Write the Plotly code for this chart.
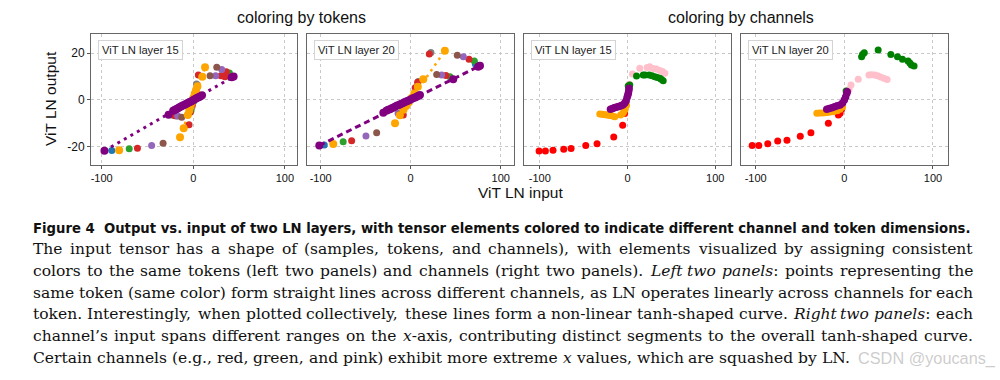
import glob
import os
import re
import struct

import plotly.graph_objects as go

W, H = 1000, 380

# ---------------- colours ----------------
TOK_COLORS = {"purple": "#800080", "blue": "#1f77b4", "orange": "#ffa500", "green": "#2ca02c",
              "red": "#d62728", "lavender": "#9467bd", "brown": "#8c564b", "gray": "#7f7f7f"}
CH_COLORS = {"red": "#ff0000", "orange": "#ffa500", "purple": "#800080", "green": "#008000", "pink": "#ffc0cb"}

# ---------------- panel 1: layer 15, coloured by tokens ----------------
l15_blue_x = [-89]
l15_blue_y = [-21.5]
l15_orange_x = [-81, -14.5, -10.5, -6, -4.5, -3, -1.5, 0, 1.5, 3, 4.5, 9.8, 12.8]
l15_orange_y = [-21.4, -15.9, -12, -6.4, -4.6, -2.8, -1, 0.8, 2.6, 4.2, 5.8, 9.9, 13.9]
l15_green_x = [-70, -22, -2.5, 0.5, 2.5, 4.5, 37, 39.4]
l15_green_y = [-20.8, -6.5, -4.6, -0.5, 2.6, 5.6, 10.3, 11.5]
l15_red_x = [-61, -20, -4.7, -3.5, -1, 1, 3, 5.5, 30.2, 34.5, 36]
l15_red_y = [-20.6, -6.7, -10.6, -5.2, -2, 1, 4, 10.6, 10.3, 9.9, 12]
l15_lavender_x = [-45.5, -17, 24.4, 31]
l15_lavender_y = [-19.4, -6.8, 10.3, 13]
l15_brown_x = [-33, -12.7, 18.3, 25.6]
l15_brown_y = [-18.4, -7.4, 10.3, 13.9]
l15_gray_x = [-18, -1.5, 3.5]
l15_gray_y = [-6.8, -3, 6.8]
l15_purple_x = [-97, -27, -22, -20.5, -19, -17.5, -16, -14.5, -13, -11.5, -10, -8.5, -7, -5.5, -4,
                -2.5, -1, 0.5, 2, 3.5, 5, 6.5, 8, 9.5, 42, 44]
l15_purple_y = [-21.6, -6.3, -4.6, -4.3, -4.0, -3.7, -3.3, -3.0, -2.7, -2.4, -2.1, -1.8, -1.5, -1.2, -0.9,
                -0.6, -0.3, 0.1, 0.4, 0.7, 1.0, 1.3, 1.6, 2.0, 9.7, 10.0]
l15_pline_x = [-97, 44]
l15_pline_y = [-21.6, 10.0]
l15_oline_x = [-14.5, 12.8]
l15_oline_y = [-15.9, 13.9]

# ---------------- panel 2: layer 20, coloured by tokens ----------------
l20_blue_x = [-96, 72]
l20_blue_y = [-19.2, 15.2]
l20_orange_x = [-86, -17.4, -12, -8, -5, -2, 1, 4, 8, 14, 38]
l20_orange_y = [-18.8, -9.9, -6.5, -4.2, -2.6, -1, 0.8, 2.8, 5.6, 8.8, 21]
l20_green_x = [-75, -10, 43.6, 70.7]
l20_green_y = [-17.8, -5.2, 9.9, 16.6]
l20_red_x = [-65.6, -8.2, 5, 7.7, 20.7, 39.2, 64.8]
l20_red_y = [-17.4, -6.4, 5.2, 7.6, 19.6, 10.4, 17.3]
l20_lavender_x = [-49.7, -14, 34.4, 58.5]
l20_lavender_y = [-15.4, -5.8, 10.6, 18.4]
l20_brown_x = [-37.8, -12, 28.9, 51.8]
l20_brown_y = [-14, -6, 10.8, 19.1]
l20_gray_x = [8.5, 22.5]
l20_gray_y = [7.9, 20.2]
l20_purple_x = [-101.5, -30.4, -27, -25, -23, -21, -19, -17, -15, -13, -11, -9, -7, -5, -3, -1,
                1, 3, 5, 7, 9, 10.3, 47.3, 75, 77]
l20_purple_y = [-19.4, -5.4, -4.6, -4.2, -3.9, -3.5, -3.2, -2.8, -2.4, -2.1, -1.7, -1.4, -1.0, -0.7,
                -0.3, 0.0, 0.4, 0.8, 1.1, 1.5, 1.8, 2.1, 8.8, 14.2, 14.6]
l20_pline_x = [-101.5, 77]
l20_pline_y = [-19.4, 14.6]
l20_oline_x = [-17.4, 38]
l20_oline_y = [-9.9, 21]

# ---------------- panel 3: layer 15, coloured by channels ----------------
c15_red_x = [-100.8, -93.6, -84.9, -72.7, -64.3, -47.6, -34.7, -15.7, -5.5, -3.3]
c15_red_y = [-21.7, -21.7, -21.4, -21.0, -20.7, -19.4, -18.6, -15.8, -10.8, -5.8]
c15_orange_x = [-31.6, -29, -27, -25, -23, -21, -19, -17, -14.5, -7.9, -5.5, -4.1, -2.5, -1.1]
c15_orange_y = [-6.0, -6.1, -6.2, -6.3, -6.4, -6.5, -6.6, -6.8, -7.2, -6.4, -5.8, -5.0, -3.8, -2.3]
c15_purple_x = [-19.4, -17, -15, -13, -11, -9, -6.8, -5, -3, -1.5, -0.5, 0.3, 1, 1.5, 1.8]
c15_purple_y = [-4.0, -3.6, -3.3, -3.1, -2.9, -2.7, -2.4, -2.0, -1.3, -0.3, 1.0, 2.0, 3.0, 4.0, 5.0]
c15_pink_x = [1.9, 5.7, 14, 22.4, 25.4, 29.3, 33, 36.9, 40, 42.6]
c15_pink_y = [6.7, 11.1, 13.5, 13.8, 14.2, 13.4, 13.2, 12.6, 12.1, 11.4]
c15_green_x = [0.8, 2.6, 10.3, 17.9, 20, 24.7, 28, 31.2, 34, 36.9, 38.5, 40.7]
c15_green_y = [6.0, 6.4, 10.2, 10.6, 10.6, 10.6, 10.3, 9.9, 9.6, 9.2, 8.8, 8.2]

# ---------------- panel 4: layer 20, coloured by channels ----------------
c20_red_x = [-104, -96.5, -86.4, -75.2, -64.7, -49.7, -37.7, -18, -6.7, -4.8, -3]
c20_red_y = [-19.4, -19.4, -18.7, -17.5, -17.2, -15.5, -14.0, -9.9, -6.4, -5.7, -4.0]
c20_orange_x = [-31, -28, -25, -22, -19, -16, -12.4, -8, -4.8, -2]
c20_orange_y = [-5.7, -5.6, -5.5, -5.4, -5.3, -5.1, -5.0, -4.6, -4.0, -3.0]
c20_purple_x = [-19.8, -17, -14, -11, -8, -4.8, -2, 0, 1.5, 2.7, 3.3]
c20_purple_y = [-4.0, -3.6, -3.3, -2.9, -2.5, -2.1, -1.3, 0.0, 1.3, 2.8, 3.5]
c20_pink_x = [5.3, 7.5, 15.7, 27.8, 31, 34.5, 37.5, 40.9, 44.5, 48.3]
c20_pink_y = [4.5, 6.4, 8.8, 10.6, 10.7, 10.6, 10.3, 9.8, 9.3, 8.7]
c20_green_x = [2.0, 19.5, 20.5, 22.5, 38.2, 52.5, 60, 65.6, 71.9, 74, 75.7, 78.7]
c20_green_y = [3.8, 18.4, 19.4, 20.1, 21.3, 19.4, 18.4, 17.3, 16.6, 15.8, 14.9, 14.5]

# ---------------- axes / labels ----------------
x_ticks = [-100, 0, 100]
x_tick_text = ["-100", "0", "100"]
y_ticks = [-20, 0, 20]
y_tick_text = ["-20", "0", "20"]
panel_labels = ["ViT LN layer 15", "ViT LN layer 20", "ViT LN layer 15", "ViT LN layer 20"]
group_titles = ["coloring by tokens", "coloring by channels"]
x_title = "ViT LN input"
y_title = "ViT LN output"

caption_title = "Figure 4  Output vs. input of two LN layers, with tensor elements colored to indicate different channel and token dimensions."
caption_lines = [
    "The input tensor has a shape of (samples, tokens, and channels), with elements visualized by assigning consistent",
    "colors to the same tokens (left two panels) and channels (right two panels). <i>Left two panels</i>: points representing the",
    "same token (same color) form straight lines across different channels, as LN operates linearly across channels for each",
    "token. Interestingly, when plotted collectively, these lines form a non-linear tanh-shaped curve. <i>Right two panels</i>: each",
    "channel\u2019s input spans different ranges on the <i>x</i>-axis, contributing distinct segments to the overall tanh-shaped curve.",
    "Certain channels (e.g., red, green, and pink) exhibit more extreme <i>x</i> values, which are squashed by LN.",
]
watermark = "CSDN @youcans_"

# ---------------- geometry (pixels) ----------------
panel_px = [(91, 297), (307, 514), (524, 731), (741, 948)]
panel_top, panel_bot = 34, 165
x_ranges = [[-111.7, 113.2], [-115.2, 114.8], [-118, 118], [-116.6, 117]]
y_range = [-27.7, 28.1]
text_left, text_right = 32, 972
last_line_right = 850
title_y = 228
line_y = [249, 271, 292.5, 314, 336, 357.5]


# ---------------- font metrics (for justified caption text) ----------------
def find_font(name):
    for d in ["/usr/share/fonts", "/usr/local/share/fonts", os.path.expanduser("~/.fonts"),
              os.path.expanduser("~/.local/share/fonts")]:
        hits = glob.glob(os.path.join(d, "**", name), recursive=True)
        if hits:
            return hits[0]
    return None


class Metrics:
    def __init__(self, path):
        data = open(path, "rb").read()
        num = struct.unpack(">H", data[4:6])[0]
        tab = {}
        for i in range(num):
            tag, _, off, _ = struct.unpack(">4sIII", data[12 + 16 * i:28 + 16 * i])
            tab[tag.decode("latin1")] = off
        self.upem = struct.unpack(">H", data[tab["head"] + 18:tab["head"] + 20])[0]
        nh = struct.unpack(">H", data[tab["hhea"] + 34:tab["hhea"] + 36])[0]
        hm = tab["hmtx"]
        self.adv = [struct.unpack(">H", data[hm + 4 * i:hm + 4 * i + 2])[0] for i in range(nh)]
        c = tab["cmap"]
        n = struct.unpack(">H", data[c + 2:c + 4])[0]
        sub = None
        for i in range(n):
            pid, eid, off = struct.unpack(">HHI", data[c + 4 + 8 * i:c + 12 + 8 * i])
            fmt = struct.unpack(">H", data[c + off:c + off + 2])[0]
            if fmt == 4 and pid in (0, 3):
                sub = c + off
                break
        segx2 = struct.unpack(">H", data[sub + 6:sub + 8])[0]
        seg = segx2 // 2
        p = sub + 14
        self.end = struct.unpack(">%dH" % seg, data[p:p + segx2]); p += segx2 + 2
        self.start = struct.unpack(">%dH" % seg, data[p:p + segx2]); p += segx2
        self.delta = struct.unpack(">%dH" % seg, data[p:p + segx2]); p += segx2
        self.rpos = p
        self.rofs = struct.unpack(">%dH" % seg, data[p:p + segx2])
        self.data = data

    def gid(self, ch):
        c = ord(ch)
        for i, e in enumerate(self.end):
            if c <= e:
                if c < self.start[i]:
                    return 0
                if self.rofs[i] == 0:
                    return (c + self.delta[i]) & 0xFFFF
                a = self.rpos + 2 * i + self.rofs[i] + 2 * (c - self.start[i])
                g = struct.unpack(">H", self.data[a:a + 2])[0]
                return (g + self.delta[i]) & 0xFFFF if g else 0
        return 0

    def width(self, s, size):
        tot = 0
        for ch in s:
            g = self.gid(ch)
            tot += self.adv[g] if g < len(self.adv) else self.adv[-1]
        return tot / self.upem * size


def load(name):
    try:
        p = find_font(name)
        return Metrics(p) if p else None
    except Exception:
        return None


m_roman = load("DejaVuSerif.ttf")
m_italic = load("DejaVuSerif-Italic.ttf")
m_bold = load("DejaVuSans-Bold.ttf")
have_metrics = m_roman is not None and m_italic is not None


def parse_words(line):
    words = [[]]
    ital = False
    for tok in re.split(r"(<i>|</i>)", line):
        if tok == "<i>":
            ital = True
            continue
        if tok == "</i>":
            ital = False
            continue
        for j, part in enumerate(tok.split(" ")):
            if j > 0:
                words.append([])
            if part:
                words[-1].append((part, ital))
    return [w for w in words if w]


# ---------------- traces ----------------
fig = go.Figure()


def sc(ax, x, y, color, size):
    fig.add_trace(go.Scatter(x=x, y=y, mode="markers", xaxis="x" + ax, yaxis="y" + ax,
                             marker=dict(color=color, size=size, line=dict(width=0)),
                             showlegend=False, hoverinfo="skip"))


def ln(ax, x, y, color, width, dash):
    fig.add_trace(go.Scatter(x=x, y=y, mode="lines", xaxis="x" + ax, yaxis="y" + ax,
                             line=dict(color=color, width=width, dash=dash),
                             showlegend=False, hoverinfo="skip"))


T = TOK_COLORS
ln("", l15_oline_x, l15_oline_y, T["orange"], 2.5, "2.5px,4.5px")
sc("", l15_blue_x, l15_blue_y, T["blue"], 7)
sc("", l15_gray_x, l15_gray_y, T["gray"], 7)
sc("", l15_green_x, l15_green_y, T["green"], 7)
sc("", l15_red_x, l15_red_y, T["red"], 7)
sc("", l15_lavender_x, l15_lavender_y, T["lavender"], 7)
sc("", l15_brown_x, l15_brown_y, T["brown"], 7)
sc("", l15_orange_x, l15_orange_y, T["orange"], 8)
ln("", l15_pline_x, l15_pline_y, T["purple"], 3, "3px,4.5px")
sc("", l15_purple_x, l15_purple_y, T["purple"], 8)

ln("2", l20_oline_x, l20_oline_y, T["orange"], 2.5, "2.5px,4.5px")
sc("2", l20_blue_x, l20_blue_y, T["blue"], 7)
sc("2", l20_gray_x, l20_gray_y, T["gray"], 7)
sc("2", l20_green_x, l20_green_y, T["green"], 7)
sc("2", l20_red_x, l20_red_y, T["red"], 7)
sc("2", l20_lavender_x, l20_lavender_y, T["lavender"], 7)
sc("2", l20_brown_x, l20_brown_y, T["brown"], 7)
sc("2", l20_orange_x, l20_orange_y, T["orange"], 8)
ln("2", l20_pline_x, l20_pline_y, T["purple"], 3, "6px,4px")
sc("2", l20_purple_x, l20_purple_y, T["purple"], 8)

C = CH_COLORS
sc("3", c15_red_x, c15_red_y, C["red"], 7)
sc("3", c15_orange_x, c15_orange_y, C["orange"], 7)
sc("3", c15_pink_x, c15_pink_y, C["pink"], 7)
sc("3", c15_green_x, c15_green_y, C["green"], 7)
sc("3", c15_purple_x, c15_purple_y, C["purple"], 7.5)
sc("4", c20_red_x, c20_red_y, C["red"], 7)
sc("4", c20_orange_x, c20_orange_y, C["orange"], 7)
sc("4", c20_pink_x, c20_pink_y, C["pink"], 7)
sc("4", c20_green_x, c20_green_y, C["green"], 7)
sc("4", c20_purple_x, c20_purple_y, C["purple"], 7.5)

# ---------------- layout ----------------
SANS = "Liberation Sans, Arial, sans-serif"
SERIF = "DejaVu Serif, serif"
BOLD = "DejaVu Sans, sans-serif"
layout = dict(width=W, height=H, margin=dict(l=0, r=0, t=0, b=0),
              paper_bgcolor="white", plot_bgcolor="white", showlegend=False,
              font=dict(family=SANS, color="#111", size=11))

ydom = [1 - panel_bot / H, 1 - panel_top / H]
ann = []
for i, (l, r) in enumerate(panel_px):
    k = "" if i == 0 else str(i + 1)
    layout["xaxis" + k] = dict(domain=[l / W, r / W], anchor="y" + k, range=x_ranges[i],
                               tickvals=x_ticks, ticktext=x_tick_text, ticks="outside", ticklen=3,
                               tickcolor="#555", showline=True, mirror=True, linecolor="#666",
                               linewidth=1, showgrid=True, gridcolor="#c8c8c8", griddash="dot",
                               gridwidth=1, zeroline=False, tickfont=dict(size=11, color="#111"))
    layout["yaxis" + k] = dict(domain=ydom, anchor="x" + k, range=y_range, tickvals=y_ticks,
                               ticktext=y_tick_text, ticks="outside" if i == 0 else "", ticklen=3,
                               tickcolor="#555", showticklabels=(i == 0), showline=True, mirror=True,
                               linecolor="#666", linewidth=1, showgrid=True, gridcolor="#c8c8c8",
                               griddash="dot", gridwidth=1, zeroline=False,
                               tickfont=dict(size=12, color="#111"))
    ann.append(dict(text=panel_labels[i], xref="x" + k + " domain", yref="y" + k + " domain",
                    x=0.035, y=0.955, xanchor="left", yanchor="top", showarrow=False,
                    font=dict(size=11.2, color="#222", family=SANS), bgcolor="white",
                    bordercolor="#d4d4d4", borderwidth=1, borderpad=3))


def put(text, px, py, size, family, xanchor="center", angle=0, color="#111"):
    ann.append(dict(text=text, x=px / W, y=1 - py / H, xref="paper", yref="paper",
                    xanchor=xanchor, yanchor="middle", showarrow=False, textangle=angle,
                    borderpad=0, font=dict(size=size, family=family, color=color)))


put(group_titles[0], 301, 17, 16, SANS)
put(group_titles[1], 741, 17, 16, SANS)
put(x_title, 520, 192, 15.5, SANS)
put(y_title, 50, 99, 15.5, SANS, angle=-90)

# caption: bold title line
full_w = text_right - text_left
if m_bold is not None:
    bsize = full_w / m_bold.width(caption_title, 1.0)
else:
    bsize = 14
put("<b>" + caption_title + "</b>", text_left, title_y, bsize, BOLD, xanchor="left")

# caption body, justified like the source
if have_metrics:
    def wwidth(word, size):
        return sum((m_italic if it else m_roman).width(t, size) for t, it in word)

    last_words = parse_words(caption_lines[-1])
    sp1 = m_roman.width(" ", 1.0)
    nat1 = sum(wwidth(w, 1.0) for w in last_words) + sp1 * (len(last_words) - 1)
    bsz = (last_line_right - text_left) / nat1
    for li, (line, yy) in enumerate(zip(caption_lines, line_y)):
        words = parse_words(line)
        widths = [wwidth(w, bsz) for w in words]
        if li < len(caption_lines) - 1:
            gap = (full_w - sum(widths)) / (len(words) - 1)
        else:
            gap = sp1 * bsz
        xpos = text_left
        for w, wd in zip(words, widths):
            html = "".join(("<i>%s</i>" % t) if it else t for t, it in w)
            put(html, xpos, yy, bsz, SERIF, xanchor="left")
            xpos += wd + gap
else:
    for line, yy in zip(caption_lines, line_y):
        put(line, text_left, yy, 15.5, SERIF, xanchor="left")

put(watermark, 997, 358, 16.3, SANS, xanchor="right", color="rgba(170,170,170,0.6)")

layout["annotations"] = ann
fig.update_layout(**layout)
fig.write_html("out.html", config={"displayModeBar": False, "staticPlot": True},
               post_script="document.body.style.margin='0px';")
